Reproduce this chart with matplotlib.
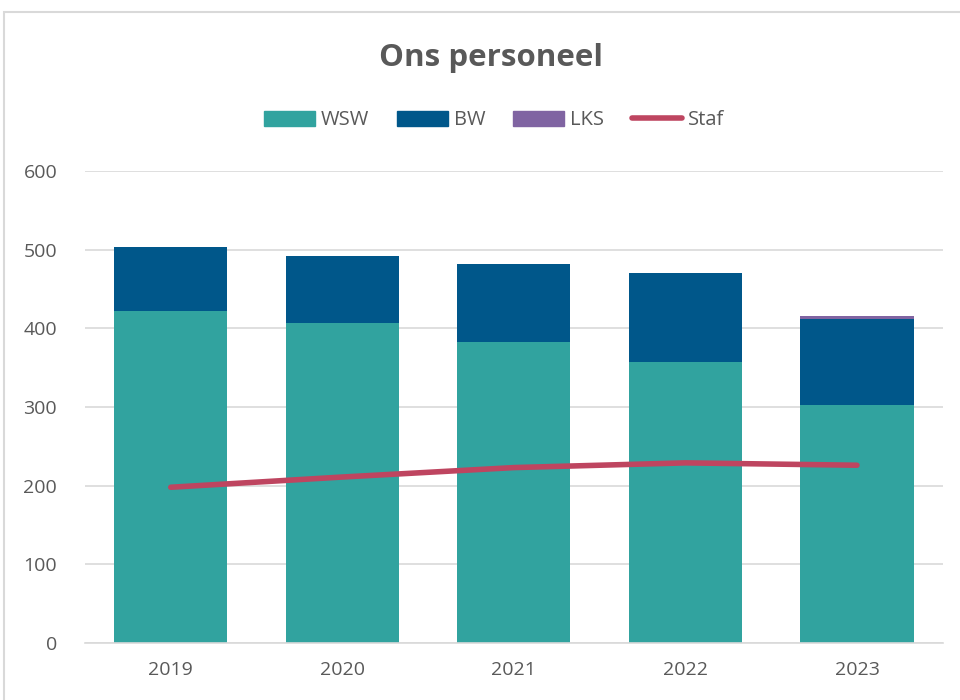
import matplotlib.pyplot as plt
from matplotlib.patches import Rectangle
from matplotlib.lines import Line2D
import numpy as np

plt.rcParams['font.family'] = ['Open Sans', 'DejaVu Sans']

years = ['2019', '2020', '2021', '2022', '2023']
wsw = [422, 407, 383, 357, 303]
bw = [81, 85, 99, 113, 109]
lks = [0, 0, 0, 0, 4]
staf = [198, 211, 223, 229, 226]

c_wsw = '#31A39F'
c_bw = '#00578A'
c_lks = '#8064A2'
c_staf = '#BE4560'
grey = '#595959'

fig = plt.figure(figsize=(9.6, 7), dpi=100)
ax = fig.add_axes([0.0885, 0.0814, 0.8935, 0.6743])

x = np.arange(len(years))
w = 0.66
ax.bar(x, wsw, w, color=c_wsw, zorder=2)
ax.bar(x, bw, w, bottom=wsw, color=c_bw, zorder=2)
bottom2 = np.array(wsw) + np.array(bw)
ax.bar(x, lks, w, bottom=bottom2, color=c_lks, zorder=2)
ax.plot(x, staf, color=c_staf, lw=4, solid_capstyle='round', zorder=3)

ax.set_xlim(-0.5, 4.5)
ax.set_ylim(0, 600)
ax.set_yticks(range(0, 601, 100))
ax.set_xticks(x)
ax.set_xticklabels(years)
ax.grid(axis='y', color='#D9D9D9', lw=1.2, zorder=0)
for s in ['top', 'right', 'left']:
    ax.spines[s].set_visible(False)
ax.spines['bottom'].set_color('#D9D9D9')
ax.spines['bottom'].set_linewidth(1.2)
ax.tick_params(length=0, labelsize=14, colors=grey)
ax.tick_params(axis='y', pad=20)
ax.tick_params(axis='x', pad=13)

fig.text(0.511, 0.917, 'Ons personeel', ha='center', va='center',
         fontsize=22.5, fontweight='bold', color=grey)

handles = [Rectangle((0, 0), 1, 1, color=c_wsw),
           Rectangle((0, 0), 1, 1, color=c_bw),
           Rectangle((0, 0), 1, 1, color=c_lks),
           Line2D([0], [0], color=c_staf, lw=4, solid_capstyle='round')]
fig.legend(handles, ['WSW', 'BW', 'LKS', 'Staf'], loc='center',
           bbox_to_anchor=(0.515, 0.828), ncol=4, frameon=False,
           fontsize=14.5, labelcolor=grey, handlelength=2.5, handleheight=0.75,
           handletextpad=0.3, columnspacing=1.4)

fig.add_artist(Rectangle((4 / 960, -0.01), 1.0, (700 - 12) / 700 + 0.01,
                         transform=fig.transFigure, fill=False,
                         edgecolor='#D9D9D9', lw=1.5))

fig.savefig('out.png', dpi=100)
